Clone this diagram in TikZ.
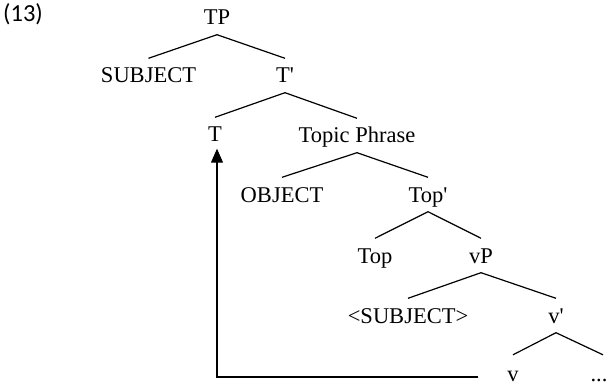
\documentclass[tikz,border=0pt]{standalone}
\usepackage{fontspec}
\setmainfont{Liberation Serif}
\newfontfamily\exfont{Carlito}
\usetikzlibrary{arrows.meta,calc}
\newcommand{\pr}{\textquotesingle}
\begin{document}
\begin{tikzpicture}[x=1pt,y=-1pt,
  lbl/.style={font=\fontsize{22.5}{27}\selectfont, text height=15pt, text depth=0pt,
              inner xsep=0pt, inner ysep=9.5pt, anchor=base},
  leaf/.style={lbl, inner ysep=0pt, text height=26pt},
  edge/.style={line width=1.2pt, black},
  ]
\useasboundingbox (0,0) rectangle (608,385);
\node[font=\exfont\fontsize{24.5}{28}\selectfont, anchor=base west, inner sep=0pt] (ex) at (3,22) {(13)};

\node[lbl] (tp)   at (217,25)  {TP};
\node[lbl] (subj) at (148.5,83) {SUBJECT};
\node[lbl] (tbar) at (285,83)  {T\pr};
\node[lbl] (t)    at (215,142) {T};
\node[lbl] (topp) at (357,143) {Topic Phrase};
\node[lbl] (obj)  at (282,202) {OBJECT};
\node[lbl] (topbar) at (428,202) {Top\pr};
\node[lbl] (top)  at (375,263) {Top};
\node[lbl] (vp)   at (481,263) {vP};
\node[lbl] (subjt) at (408,323) {<SUBJECT>};
\node[lbl] (vbar) at (556,323) {v\pr};
\node[leaf] (v)    at (513,381) {v};
\node[leaf] (dots) at (599,381) {...};

\draw[edge] (tp.south) -- (subj.north);
\draw[edge] (tp.south) -- (tbar.north);
\draw[edge] (tbar.south) -- (t.north);
\draw[edge] (tbar.south) -- (topp.north);
\draw[edge] (topp.south) -- (obj.north);
\draw[edge] (topp.south) -- (topbar.north);
\draw[edge] (topbar.south) -- (top.north);
\draw[edge] (topbar.south) -- (vp.north);
\draw[edge] (vp.south) -- (subjt.north);
\draw[edge] (vp.south) -- (vbar.north);
\draw[edge] (vbar.south) -- (v.north);
\draw[edge] (vbar.south) -- ($(dots.north)+(4,0)$);

\coordinate (vstart) at (478,377);
\coordinate (tend) at ($(t.south)+(2,-3)$);
\draw[edge, -{Triangle[length=14pt,width=12pt]}] (vstart) -| (tend);
\end{tikzpicture}
\end{document}
